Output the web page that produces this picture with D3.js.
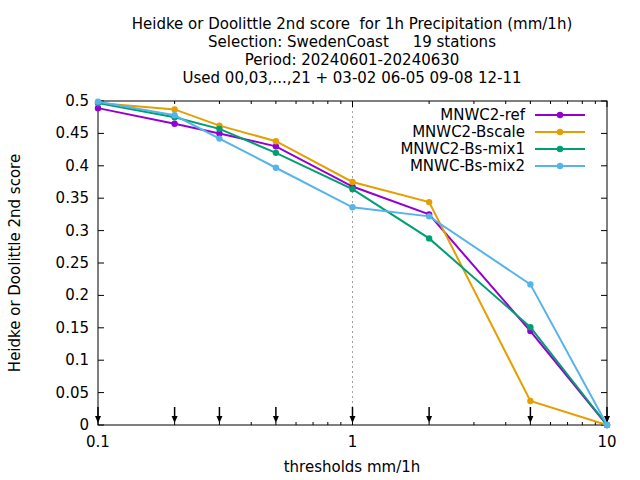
<!DOCTYPE html>
<html><head><meta charset="utf-8">
<script src="https://cdn.jsdelivr.net/npm/d3@7"></script>
<style>body{margin:0;background:#fff}text{font-family:"DejaVu Sans",sans-serif;font-size:15px}</style>
</head><body><svg id="c" width="640" height="480"></svg>
<script>
const thresholds = [0.1, 0.2, 0.3, 0.5, 1, 2, 5, 10];
const seriesNames = ["MNWC2-ref", "MNWC2-Bscale", "MNWC2-Bs-mix1", "MNWC-Bs-mix2"];
const colors = ["#9400d3", "#e69f00", "#009e73", "#56b4e9"];
const refVals = [0.489, 0.465, 0.450, 0.430, 0.368, 0.325, 0.145, 0.0];
const bscaleVals = [0.497, 0.487, 0.462, 0.438, 0.375, 0.344, 0.037, 0.0];
const mix1Vals = [0.497, 0.475, 0.457, 0.420, 0.364, 0.288, 0.151, 0.0];
const mix2Vals = [0.499, 0.478, 0.442, 0.397, 0.336, 0.322, 0.217, 0.0];
const yTicks = [0, 0.05, 0.1, 0.15, 0.2, 0.25, 0.3, 0.35, 0.4, 0.45, 0.5];
const titleLines = ["Heidke or Doolittle 2nd score  for 1h Precipitation (mm/1h)",
  "Selection: SwedenCoast     19 stations", "Period: 20240601-20240630",
  "Used 00,03,...,21 + 03-02 06-05 09-08 12-11"];

const svg = d3.select("#c");
const L = 98, R = 607, T = 101, B = 425;
const x = d3.scaleLog().domain([0.1, 10]).range([L, R]);
const y = d3.scaleLinear().domain([0, 0.5]).range([B, T]);

// grid at x=1
svg.append("line").attr("x1", x(1)).attr("x2", x(1)).attr("y1", T).attr("y2", B)
  .attr("stroke", "#a0a0a0").attr("stroke-dasharray", "2,3");

const g = svg.append("g");
// y axis ticks
yTicks.forEach(v => {
  g.append("line").attr("x1", L).attr("x2", L + 6).attr("y1", y(v)).attr("y2", y(v)).attr("stroke", "#000");
  g.append("line").attr("x1", R).attr("x2", R - 6).attr("y1", y(v)).attr("y2", y(v)).attr("stroke", "#000");
  g.append("text").attr("x", L - 9).attr("y", y(v) + 5).attr("text-anchor", "end").text(v);
});
// x axis ticks (log)
const minor = [];
for (let d = 0.1; d < 10; d *= 10) for (let k = 1; k < 10; k++) minor.push(d * k);
minor.push(10);
minor.forEach(v => {
  const major = [0.1, 1, 10].some(m => Math.abs(m - v) < 1e-9);
  const len = major ? 6 : 3;
  g.append("line").attr("x1", x(v)).attr("x2", x(v)).attr("y1", B).attr("y2", B - len).attr("stroke", "#000");
  g.append("line").attr("x1", x(v)).attr("x2", x(v)).attr("y1", T).attr("y2", T + len).attr("stroke", "#000");
});
[0.1, 1, 10].forEach(v => g.append("text").attr("x", x(v)).attr("y", B + 22).attr("text-anchor", "middle").text(v));
g.append("rect").attr("x", L).attr("y", T).attr("width", R - L).attr("height", B - T)
  .attr("fill", "none").attr("stroke", "#000");

// threshold arrows
thresholds.forEach(t => {
  g.append("line").attr("x1", x(t)).attr("x2", x(t)).attr("y1", 407).attr("y2", 420).attr("stroke", "#000").attr("stroke-width", 1.5);
  g.append("path").attr("d", `M${x(t) - 3},416 L${x(t) + 3},416 L${x(t)},423 Z`).attr("fill", "#000");
});

// series
const allVals = [refVals, bscaleVals, mix1Vals, mix2Vals];
const line = d3.line().x((d, i) => x(thresholds[i])).y(d => y(d));
allVals.forEach((vals, s) => {
  svg.append("path").datum(vals).attr("d", line).attr("fill", "none")
    .attr("stroke", colors[s]).attr("stroke-width", 2);
  svg.selectAll(null).data(vals).enter().append("circle")
    .attr("cx", (d, i) => x(thresholds[i])).attr("cy", d => y(d)).attr("r", 3.2).attr("fill", colors[s]);
});

// legend
seriesNames.forEach((n, s) => {
  const ly = 115 + s * 17;
  svg.append("text").attr("x", 525).attr("y", ly + 5).attr("text-anchor", "end").text(n);
  svg.append("line").attr("x1", 535).attr("x2", 585).attr("y1", ly).attr("y2", ly).attr("stroke", colors[s]).attr("stroke-width", 2);
  svg.append("circle").attr("cx", 560).attr("cy", ly).attr("r", 3.2).attr("fill", colors[s]);
});

// titles
titleLines.forEach((t, i) => svg.append("text").attr("x", 352).attr("y", 29 + i * 18)
  .attr("text-anchor", "middle").style("white-space", "pre").text(t));
svg.append("text").attr("x", 352).attr("y", 472).attr("text-anchor", "middle").text("thresholds mm/1h");
svg.append("text").attr("transform", "translate(20,263) rotate(-90)").attr("text-anchor", "middle")
  .text("Heidke or Doolittle 2nd score");
</script></body></html>
